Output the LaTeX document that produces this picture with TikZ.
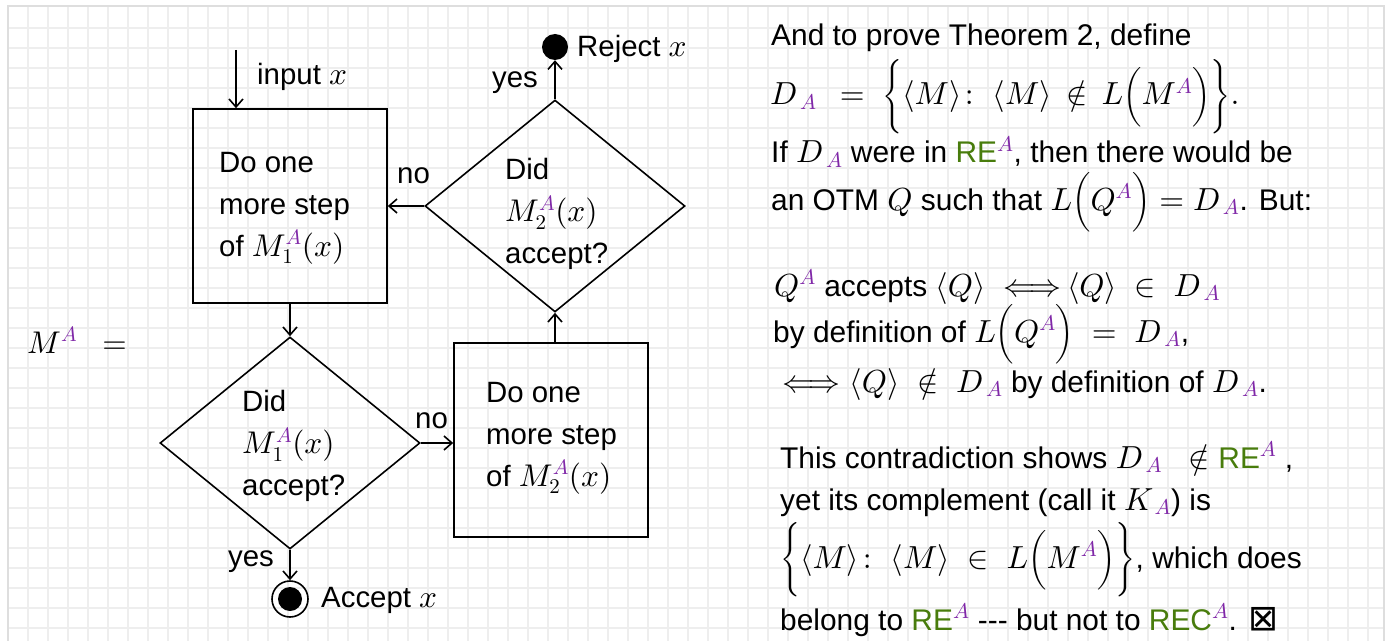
\RequirePackage{fix-cm}
\documentclass[tikz,border=0pt]{standalone}
\usepackage{amsmath}
\usepackage[no-math]{fontspec}
\setmainfont{Liberation Sans}
\newfontfamily\symbolfont{DejaVu Sans}
\usetikzlibrary{arrows.meta,shapes.geometric}

% math letters drawn from the 10pt designs at every size (sturdier strokes)
\DeclareFontShape{OML}{cmm}{m}{it}{<-6>cmmi5<6-7>cmmi6<7-8>cmmi7<8-9>cmmi8<9-10>cmmi9<10->cmmi10}{\skewchar\font127}
\DeclareFontShape{OT1}{cmr}{m}{n}{<-6>cmr5<6-7>cmr6<7-8>cmr7<8-9>cmr8<9-10>cmr9<10->cmr10}{}
\DeclareFontShape{OMS}{cmsy}{m}{n}{<-6>cmsy5<6-7>cmsy6<7-8>cmsy7<8-9>cmsy8<9-10>cmsy9<10->cmsy10}{\skewchar\font48}
\DeclareMathSizes{29.5}{31.5}{21}{16}
\DeclareMathSizes{30}{32}{21.5}{16}

\definecolor{supA}{RGB}{128,40,168}
\definecolor{reGreen}{RGB}{72,124,12}
\definecolor{gridgray}{RGB}{238,238,238}
\definecolor{framegray}{RGB}{222,222,222}

\newcommand\sA{{\color{supA}A}}
\newcommand\RE{\textcolor{reGreen}{RE}}
\newcommand\REC{\textcolor{reGreen}{REC}}
\newcommand\tripledash{\mbox{-}\mbox{-}\mbox{-}}
\newcommand\eqv{{\Longleftrightarrow}}

\tikzset{
  gridline/.style={draw=gridgray, line width=1.5bp},
  stepbox/.style={draw, line width=1.6bp, minimum width=194bp, minimum height=194bp, inner sep=0},
  decision/.style={draw, line width=1.6bp, diamond, minimum width=260bp, minimum height=212bp, inner sep=0},
  flowtext/.style={align=left, anchor=west, inner sep=0, font=\fontsize{29.5}{42}\selectfont},
  flow/.style={line width=1.6bp, -{Straight Barb[length=8bp,width=14bp]}},
  edgelabel/.style={anchor=base west, inner sep=0, font=\fontsize{29.5}{34}\selectfont},
  prose/.style={anchor=base west, inner sep=0, font=\fontsize{30}{36}\selectfont},
  stopdot/.style={circle, fill, minimum size=26bp, inner sep=0},
}

\begin{document}
\begin{tikzpicture}[x=1bp, y=-1bp]
\useasboundingbox (0,0) rectangle (1394,641);
\fill[white] (0,0) rectangle (1394,641);

% squared paper
\foreach \gx in {28,48,...,1384} \draw[gridline] (\gx,6) -- (\gx,641);
\foreach \gy in {28,48,...,641} \draw[gridline] (8,\gy) -- (1384,\gy);
\draw[framegray, line width=1.5bp] (8,650) -- (8,6) -- (1384,6) -- (1384,650);

% ---------- flowchart of the combined machine ----------
\node[stepbox] (b1) at (290,206) {};
\node[flowtext] (b1t) at (219,208) {Do one\\more step\\of $M_1^{\sA}(x)$};

\node[decision] (d2) at (555,206) {};
\node[flowtext] (d2t) at (505,214) {Did\\$M_2^{\sA}(x)$\\accept?};

\node[decision] (d1) at (290,443) {};
\node[flowtext] (d1t) at (242,446) {Did\\$M_1^{\sA}(x)$\\accept?};

\node[stepbox] (b2) at (551,440) {};
\node[flowtext] (b2t) at (486,438) {Do one\\more step\\of $M_2^{\sA}(x)$};

\node[stopdot] (rej) at (555,47) {};
\node[circle, draw, line width=1.6bp, minimum size=36bp, inner sep=0] (acc) at (290,599) {};
\node[stopdot, minimum size=24bp] (accdot) at (acc.center) {};

\coordinate (in) at (236,50);

\draw[flow] (in) -- (in |- b1.north);
\draw[flow] (b1.south) -- (d1.north);
\draw[flow] (d1.east) -- (d1.east -| b2.west);
\draw[flow] (d2.south |- b2.north) -- (d2.south);
\draw[flow] (d2.west) -- (d2.west -| b1.east);
\draw[flow] (d2.north) -- (rej.south);
\draw[flow] (d1.south) -- (acc.north);

\node[edgelabel] (lin) at (257,85) {input $x$};
\node[edgelabel] (lrej) at (577,57) {Reject $x$};
\node[edgelabel] (lacc) at (321,607) {Accept $x$};
\node[edgelabel] (lyes2) at (492,88) {yes};
\node[edgelabel] (lno2) at (397,184) {no};
\node[edgelabel] (lno1) at (415,428) {no};
\node[edgelabel] (lyes1) at (228,566) {yes};

\node[edgelabel] (mdef) at (27,353) {$M^{\sA}\ \ =$};

% ---------- the proof on the right ----------
\node[prose] (p1) at (771,46) {And to prove Theorem 2, define};
\node[prose] (p2) at (770,105) {$D_{\,\sA}\;\,=\;\bigg\{\langle M\rangle\colon\ \langle M\rangle\,\notin\,L\Big(M^{\sA}\Big)\bigg\}.$};
\node[prose] (p3) at (771,163) {If $D_{\,\sA}$ were in \RE$^{\sA}$, then there would be};
\node[prose] (p4) at (771,210) {an OTM $Q$ such that $L\Big(Q^{\sA}\Big)=D_{\,\sA}$. But:};
\node[prose] (p5) at (774,296) {$Q^{\sA}$ accepts $\langle Q\rangle\;\;\eqv\,\langle Q\rangle\;\in\;D_{\,\sA}$};
\node[prose] (p6) at (773,342) {by definition of $L\Big(Q^{\sA}\Big)\;=\;D_{\,\sA}$,};
\node[prose] (p7) at (782,392) {$\eqv\;\langle Q\rangle\;\notin\;D_{\,\sA}$ by definition of $D_{\,\sA}$.};
\node[prose] (p8) at (780,468) {This contradiction shows $D_{\,\sA}\;\;\notin$ \RE$^{\sA}$\ ,};
\node[prose] (p9) at (780,510) {yet its complement (call it $K_{\,\sA}$) is};
\node[prose] (p10) at (780,568) {$\bigg\{\langle M\rangle\colon\ \langle M\rangle\;\in\;L\Big(M^{\sA}\Big)\bigg\}$, which does};
\node[prose] (p11) at (780,630) {belong to \RE$^{\sA}$ \tripledash{} but not to \REC$^{\sA}$. {\symbolfont\fontsize{36}{36}\selectfont ⊠}};
\end{tikzpicture}
\end{document}
